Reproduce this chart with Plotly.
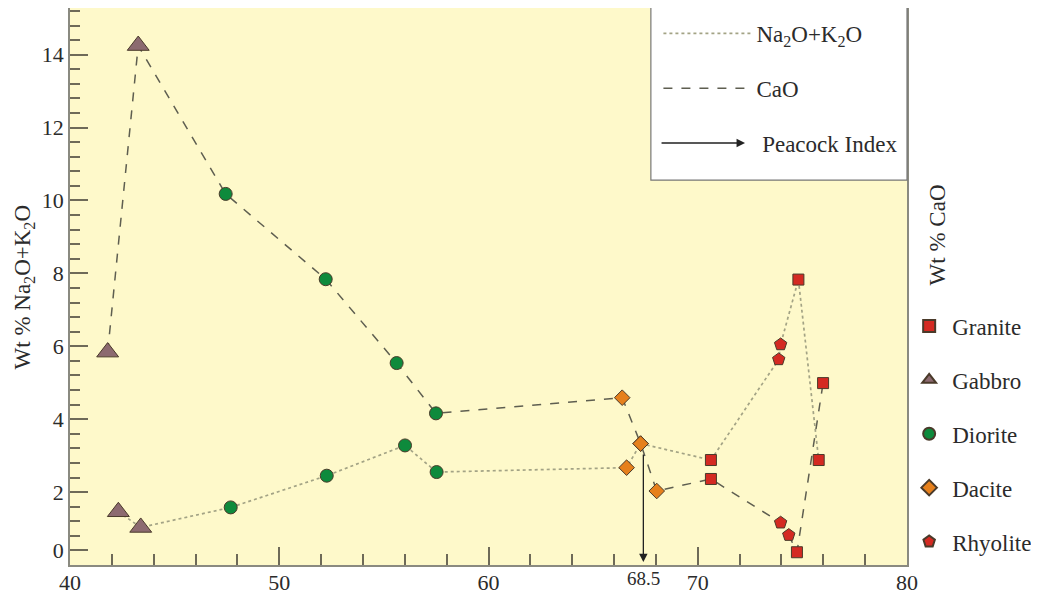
import plotly.graph_objects as go

# ---------------- data ----------------
# SiO2 (wt %) and oxide values for each rock type
gabbro_cao_sio2 = [41.80, 43.26]
gabbro_cao = [5.84, 14.25]
gabbro_alk_sio2 = [42.31, 43.38]
gabbro_alk = [1.46, 1.03]

diorite_cao_sio2 = [47.44, 52.22, 55.61, 57.49]
diorite_cao = [10.18, 7.84, 5.54, 4.16]
diorite_alk_sio2 = [47.68, 52.27, 56.01, 57.52]
diorite_alk = [1.58, 2.45, 3.28, 2.55]

dacite_cao_sio2 = [66.39, 67.27, 68.04]
dacite_cao = [4.59, 3.33, 2.03]
dacite_alk_sio2 = [66.60, 67.27]
dacite_alk = [2.67, 3.33]

granite_cao_sio2 = [70.63, 74.74, 75.99]
granite_cao = [2.36, 0.35, 4.99]
granite_alk_sio2 = [70.63, 74.81, 75.78]
granite_alk = [2.88, 7.83, 2.88]

rhyolite_cao_sio2 = [73.96, 74.35]
rhyolite_cao = [1.16, 0.82]
rhyolite_alk_sio2 = [73.87, 73.96]
rhyolite_alk = [5.64, 6.05]

peacock_sio2 = 67.40          # position of the arrow in the picture
peacock_top = 3.07
peacock_label = "68.5"

x_tickvals = [40, 50, 60, 70, 80]
x_ticktext = ["40", "50", "60", "70", "80"]
y_tickvals = [0.4, 2, 4, 6, 8, 10, 12, 14]
y_ticktext = ["0", "2", "4", "6", "8", "10", "12", "14"]

rock_names = ["Granite", "Gabbro", "Diorite", "Dacite", "Rhyolite"]
rock_symbols = ["square", "triangle-up", "circle", "diamond", "pentagon"]
rock_colors = ["#D42A22", "#8C6A70", "#0E8A3C", "#E6801C", "#D42A22"]
rock_sizes = [11, 19, 13, 12, 13]

# ---------------- build ----------------
FONT = "Liberation Serif, Times New Roman, serif"
TXT = "#2b2b2b"

rock_data = {
    "Gabbro": (gabbro_cao_sio2, gabbro_cao, gabbro_alk_sio2, gabbro_alk),
    "Diorite": (diorite_cao_sio2, diorite_cao, diorite_alk_sio2, diorite_alk),
    "Dacite": (dacite_cao_sio2, dacite_cao, dacite_alk_sio2, dacite_alk),
    "Granite": (granite_cao_sio2, granite_cao, granite_alk_sio2, granite_alk),
    "Rhyolite": (rhyolite_cao_sio2, rhyolite_cao, rhyolite_alk_sio2, rhyolite_alk),
}

cao_pts = sorted(
    (x, y) for v in rock_data.values() for x, y in zip(v[0], v[1])
)
alk_pts = sorted(
    (x, y) for v in rock_data.values() for x, y in zip(v[2], v[3])
)

fig = go.Figure()

# connecting lines
fig.add_trace(go.Scatter(
    x=[p[0] for p in alk_pts], y=[p[1] for p in alk_pts], mode="lines",
    line=dict(color="#A3A385", width=1.7, dash="dot"),
    name="Na<sub>2</sub>O+K<sub>2</sub>O", legend="legend2",
    legendgroup="l1", hoverinfo="skip"))
fig.add_trace(go.Scatter(
    x=[p[0] for p in cao_pts], y=[p[1] for p in cao_pts], mode="lines",
    line=dict(color="#5E5E50", width=1.5, dash="dash"),
    name="CaO", legend="legend2", legendgroup="l2", hoverinfo="skip"))
fig.add_trace(go.Scatter(
    x=[None], y=[None], mode="lines",
    line=dict(color="rgba(0,0,0,0)", width=1.5),
    name=" Peacock Index", legend="legend2", legendgroup="l3"))

# rock markers
for name, sym, col, sz in zip(rock_names, rock_symbols, rock_colors, rock_sizes):
    cx, cy, ax_, ay_ = rock_data[name]
    fig.add_trace(go.Scatter(
        x=list(cx) + list(ax_), y=list(cy) + list(ay_), mode="markers",
        marker=dict(symbol=sym, color=col, size=sz,
                    line=dict(color="#4a3a2a", width=1)),
        name=name, legend="legend", legendgroup=name))

# Peacock index arrow
fig.add_annotation(
    x=peacock_sio2, y=0.08, ax=peacock_sio2, ay=peacock_top,
    xref="x", yref="y", axref="x", ayref="y", text="",
    showarrow=True, arrowhead=2, arrowsize=1.3, arrowwidth=1.3,
    arrowcolor="#222222")
fig.add_annotation(
    x=peacock_sio2, y=0, xref="x", yref="paper", yanchor="top",
    yshift=-1, text=peacock_label, showarrow=False,
    font=dict(family=FONT, size=19, color=TXT))

# legend box for line types
fig.add_shape(type="rect", xref="paper", yref="paper",
              x0=0.694, x1=1.0, y0=0.691, y1=1.0036,
              line=dict(color="#777777", width=1.2), fillcolor="white",
              layer="above")
# arrow glyph for the "Peacock Index" legend entry
fig.add_annotation(
    x=0.8065, y=0.7576, ax=-85, ay=0,
    xref="paper", yref="paper", axref="pixel", ayref="pixel", text="",
    showarrow=True, arrowhead=2, arrowsize=1.3, arrowwidth=1.3,
    arrowcolor="#222222")

# axis titles
fig.add_annotation(
    x=-0.055, y=0.5, xref="paper", yref="paper", textangle=-90,
    xanchor="center", yanchor="middle",
    text="Wt % Na<sub>2</sub>O+K<sub>2</sub>O", showarrow=False,
    font=dict(family=FONT, size=23, color=TXT))
fig.add_annotation(
    x=1.036, y=0.592, xref="paper", yref="paper", textangle=-90,
    xanchor="center", yanchor="middle",
    text="Wt % CaO", showarrow=False,
    font=dict(family=FONT, size=23, color=TXT))

# the page body adds an 8px offset, so the figure is 8px smaller
fig.update_layout(
    width=1031, height=586,
    margin=dict(l=62, r=132, t=0, b=29, autoexpand=False),
    paper_bgcolor="white", plot_bgcolor="#FEF9CA",
    font=dict(family=FONT, size=22, color=TXT),
    showlegend=True,
    legend=dict(x=0.999, y=0.4677, xanchor="left", yanchor="top",
                bgcolor="rgba(0,0,0,0)", tracegroupgap=21,
                itemsizing="constant", itemwidth=36,
                font=dict(family=FONT, size=23, color=TXT)),
    legend2=dict(x=0.703, y=0.993, xanchor="left", yanchor="top",
                 bgcolor="rgba(0,0,0,0)", tracegroupgap=22,
                 itemwidth=88,
                 font=dict(family=FONT, size=23, color=TXT)),
    xaxis=dict(range=[40, 80], tickvals=x_tickvals, ticktext=x_ticktext,
               ticks="inside", ticklen=18, tickwidth=1.5, tickcolor="#6e6a58",
               minor=dict(dtick=2, tick0=40, ticks="inside", ticklen=11,
                          tickwidth=1.5, tickcolor="#6e6a58"),
               ticklabelstandoff=-3,
               showgrid=False, zeroline=False, showline=True,
               linecolor="#8a8a80", linewidth=1.5, mirror=True,
               tickfont=dict(family=FONT, size=22, color=TXT)),
    yaxis=dict(range=[0, 15.28], tickvals=y_tickvals, ticktext=y_ticktext,
               ticks="inside", ticklen=18, tickwidth=1.5, tickcolor="#6e6a58",
               minor=dict(dtick=0.4, tick0=0, ticks="inside", ticklen=10,
                          tickwidth=1.5, tickcolor="#6e6a58"),
               showgrid=False, zeroline=False, showline=True,
               linecolor="#8a8a80", linewidth=1.5, mirror=True,
               tickfont=dict(family=FONT, size=22, color=TXT)),
)

fig.write_html("out.html")
